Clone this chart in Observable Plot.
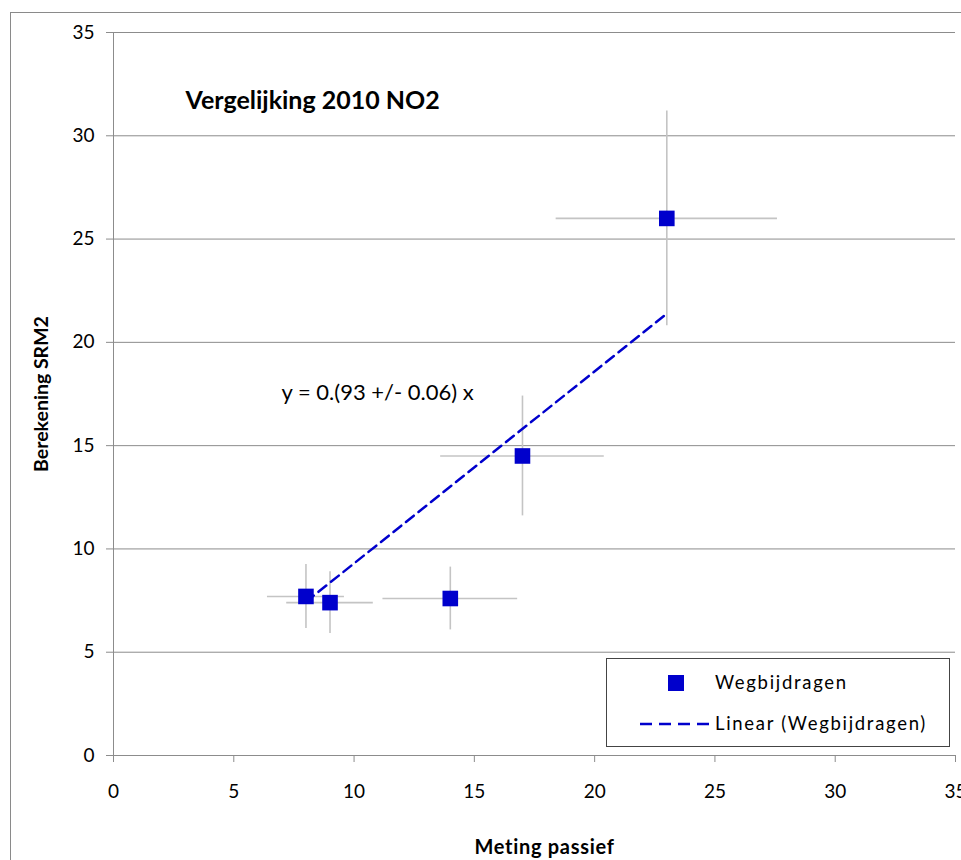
<!DOCTYPE html>
<html>
<head>
<meta charset="utf-8">
<script src="https://cdn.jsdelivr.net/npm/d3@7"></script>
<script src="https://cdn.jsdelivr.net/npm/@observablehq/plot@0.6"></script>
<style>
  html, body { margin: 0; padding: 0; background: #fff; }
  #wrap { position: relative; width: 961px; height: 860px; overflow: hidden; font-family: Lato, "Open Sans", sans-serif; }
  #frame { position: absolute; left: 10px; top: 12px; width: 2000px; height: 2000px; border-left: 1px solid #8a8a8a; border-top: 1px solid #8a8a8a; pointer-events: none; }
  #legend { position: absolute; left: 606px; top: 658px; width: 342px; height: 87px; border: 1px solid #444; background: #fff; }
  .lg-row { position: absolute; left: 0; font-size: 18.5px; letter-spacing: 1.7px; color: #000; white-space: nowrap; }
</style>
</head>
<body>
<div id="wrap">
  <div id="chart"></div>
  <div id="frame"></div>
  <div id="legend"></div>
</div>
<script>
// ---- data ----
const metingPassief   = [8, 9, 14, 17, 23];          // x values
const berekeningSRM2  = [7.7, 7.4, 7.6, 14.5, 26];   // y values
const xError          = [1.6, 1.8, 2.8, 3.4, 4.6];   // ± horizontal error
const yError          = [1.55, 1.5, 1.52, 2.9, 5.2]; // ± vertical error
const trendX          = [8, 23];                     // linear trendline endpoints
const trendY          = [7.44, 21.39];
const axisTicks       = [0, 5, 10, 15, 20, 25, 30, 35];
const seriesName      = "Wegbijdragen";
const trendName       = "Linear (Wegbijdragen)";
const titleText       = "Vergelijking 2010 NO2";
const equationText    = "y = 0.(93 +/- 0.06) x";
const xLabel          = "Meting passief";
const yLabel          = "Berekening SRM2";

const points = metingPassief.map((x, i) => ({
  x, y: berekeningSRM2[i],
  x1: x - xError[i], x2: x + xError[i],
  y1: berekeningSRM2[i] - yError[i], y2: berekeningSRM2[i] + yError[i]
}));
const trend = trendX.map((x, i) => ({x, y: trendY[i]}));

const blue = "#0000cc";
const gridGray = "#8c8c8c";

const chart = Plot.plot({
  width: 961,
  height: 860,
  marginLeft: 113,
  marginRight: 6,
  marginTop: 32,
  marginBottom: 105,
  style: {fontFamily: "Lato, 'Open Sans', sans-serif", fontSize: "19px", color: "#000", background: "#fff"},
  x: {domain: [0, 35]},
  y: {domain: [0, 35]},
  marks: [
    Plot.gridY(axisTicks, {stroke: gridGray, strokeOpacity: 1, strokeWidth: 1}),
    Plot.ruleX([0], {stroke: gridGray, strokeWidth: 1}),
    Plot.ruleY([0], {stroke: gridGray, strokeWidth: 1}),
    Plot.axisY(axisTicks, {
      tickSize: 7, tickPadding: 12, stroke: gridGray, fontSize: 19,
      label: yLabel, labelAnchor: "center", labelArrow: "none", labelOffset: 79,
      tickFormat: d => String(d)
    }),
    Plot.axisX(axisTicks, {
      tickSize: 7, tickPadding: 22, stroke: gridGray, fontSize: 19,
      label: xLabel, labelAnchor: "center", labelArrow: "none", labelOffset: 98,
      tickFormat: d => String(d)
    }),
    // error bars
    Plot.ruleY(points, {y: "y", x1: "x1", x2: "x2", stroke: "#c4c4c4", strokeWidth: 1.6}),
    Plot.ruleX(points, {x: "x", y1: "y1", y2: "y2", stroke: "#c4c4c4", strokeWidth: 1.6}),
    // trendline
    Plot.line(trend, {x: "x", y: "y", stroke: blue, strokeWidth: 2.5, strokeDasharray: "10,6"}),
    // points
    Plot.dot(points, {x: "x", y: "y", symbol: "square", r: 8.8, fill: blue, stroke: "none"}),
    // title and equation
    Plot.text([titleText], {frameAnchor: "top-left", dx: 72, dy: 68, text: d => d, textAnchor: "start", lineAnchor: "middle", fontSize: 25, fontWeight: "bold", fill: "#000"}),
    Plot.text([equationText], {frameAnchor: "top-left", dx: 168, dy: 360, text: d => d, textAnchor: "start", lineAnchor: "middle", fontSize: 22, fill: "#000"})
  ]
});
document.getElementById("chart").appendChild(chart);

// style axis labels bold
d3.select(chart).selectAll("[aria-label='y-axis label'] text")
  .style("font-weight", "bold").style("font-size", "19.5px");
d3.select(chart).selectAll("[aria-label='x-axis label'] text")
  .style("font-weight", "bold").style("font-size", "20px").style("letter-spacing", "0.7px").attr("dx", 10);

// legend (HTML overlay)
const legend = document.getElementById("legend");
legend.innerHTML = `
  <svg width="342" height="87" style="position:absolute;left:0;top:0">
    <rect x="61" y="16" width="16" height="16" fill="${blue}"></rect>
    <line x1="33" x2="102" y1="65" y2="65" stroke="${blue}" stroke-width="2.5" stroke-dasharray="12,7"></line>
  </svg>
  <div class="lg-row" style="left:108px; top:12px;">${seriesName}</div>
  <div class="lg-row" style="left:108px; top:53px;">${trendName}</div>
`;
</script>
</body>
</html>
